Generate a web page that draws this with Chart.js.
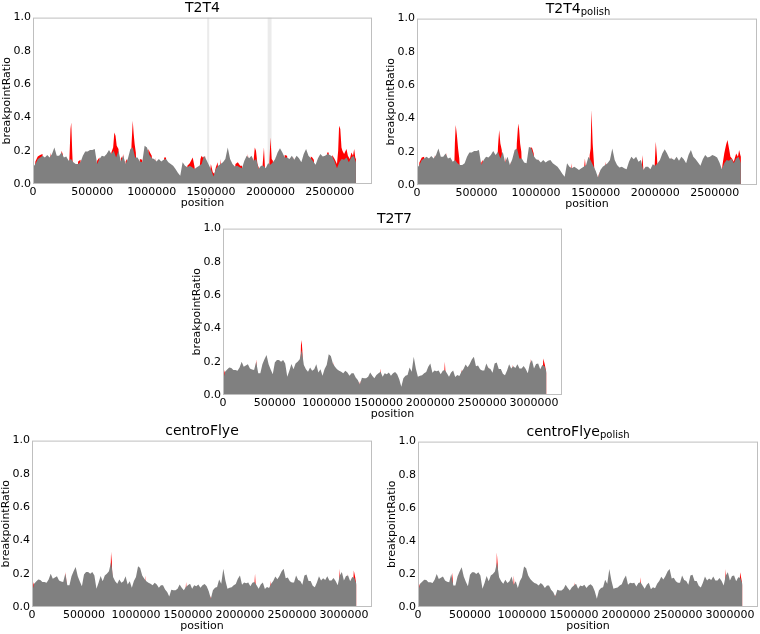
<!DOCTYPE html>
<html>
<head>
<meta charset="utf-8">
<script src="https://cdn.jsdelivr.net/npm/chart.js@4.4.0/dist/chart.umd.min.js"></script>
<style>
  html, body { margin: 0; padding: 0; background: #fff; }
  #fig { position: relative; width: 760px; height: 634px; font-family: "DejaVu Sans", sans-serif; color: #000; }
  #fig canvas { position: absolute; }
  .ttl { position: absolute; text-align: center; font-size: 14px; line-height: 14px; white-space: nowrap; }
  .ttl span { font-size: 10px; position: relative; top: 2px; }
</style>
</head>
<body>
<div id="fig"></div>
<script>
// ── data: positions in kb, ratios ──

// grey windows sampled every 20 kb
const posT2T4Kb = [0,20,40,60,80,100,120,140,160,180,200,220,240,260,280,300,320,340,360,380,400,420,440,460,480,500,520,540,560,580,600,620,640,660,680,700,720,740,760,780,800,820,840,860,880,900,920,940,960,980,1000,1020,1040,1060,1080,1100,1120,1140,1160,1180,1200,1220,1240,1260,1280,1300,1320,1340,1360,1380,1400,1420,1440,1460,1480,1500,1520,1540,1560,1580,1600,1620,1640,1660,1680,1700,1720,1740,1760,1780,1800,1820,1840,1860,1880,1900,1920,1940,1960,1980,2000,2020,2040,2060,2080,2100,2120,2140,2160,2180,2200,2220,2240,2260,2280,2300,2320,2340,2360,2380,2400,2420,2440,2460,2480,2500,2520,2540,2560,2580,2600,2620,2640,2660,2680,2700,2720];

const greyT2T4 = [0.10,0.12,0.15,0.16,0.17,0.16,0.175,0.16,0.18,0.22,
  0.17,0.17,0.19,0.16,0.165,0.14,0.15,0.13,0.12,0.12,
  0.13,0.17,0.195,0.195,0.205,0.205,0.21,0.12,0.15,0.17,
  0.165,0.18,0.205,0.18,0.20,0.16,0.20,0.135,0.17,0.12,
  0.155,0.21,0.22,0.16,0.16,0.135,0.13,0.23,0.22,0.175,
  0.155,0.15,0.135,0.15,0.135,0.145,0.15,0.13,0.12,0.11,
  0.09,0.067,0.05,0.13,0.11,0.10,0.11,0.10,0.09,0.10,
  0.11,0.12,0.17,0.145,0.115,0.085,0.045,0.09,0.11,0.12,
  0.13,0.15,0.22,0.15,0.12,0.105,0.11,0.10,0.095,0.14,
  0.17,0.155,0.17,0.14,0.15,0.09,0.11,0.11,0.095,0.125,
  0.115,0.13,0.15,0.19,0.215,0.19,0.16,0.16,0.15,0.17,
  0.145,0.17,0.155,0.13,0.18,0.21,0.17,0.155,0.135,0.115,
  0.155,0.18,0.165,0.17,0.18,0.175,0.165,0.135,0.095,0.13,
  0.15,0.145,0.16,0.13,0.16,0.17,0.13];

const posT2T7Kb = [0,20,40,60,80,100,120,140,160,180,200,220,240,260,280,300,320,340,360,380,400,420,440,460,480,500,520,540,560,580,600,620,640,660,680,700,720,740,760,780,800,820,840,860,880,900,920,940,960,980,1000,1020,1040,1060,1080,1100,1120,1140,1160,1180,1200,1220,1240,1260,1280,1300,1320,1340,1360,1380,1400,1420,1440,1460,1480,1500,1520,1540,1560,1580,1600,1620,1640,1660,1680,1700,1720,1740,1760,1780,1800,1820,1840,1860,1880,1900,1920,1940,1960,1980,2000,2020,2040,2060,2080,2100,2120,2140,2160,2180,2200,2220,2240,2260,2280,2300,2320,2340,2360,2380,2400,2420,2440,2460,2480,2500,2520,2540,2560,2580,2600,2620,2640,2660,2680,2700,2720,2740,2760,2780,2800,2820,2840,2860,2880,2900,2920,2940,2960,2980,3000,3020,3040,3060,3080,3100,3120];

// the grey profile is shared by T2T7 and both centroFlye panels
const greyT2T7 = [0.09,0.14,0.153,0.165,0.163,0.15,0.15,0.145,0.165,0.20,
  0.17,0.177,0.185,0.16,0.153,0.15,0.20,0.13,0.13,0.185,
  0.215,0.24,0.185,0.153,0.125,0.195,0.21,0.21,0.20,0.21,
  0.19,0.11,0.145,0.187,0.155,0.19,0.20,0.215,0.27,0.18,
  0.155,0.14,0.165,0.145,0.155,0.185,0.135,0.155,0.115,0.157,
  0.18,0.245,0.235,0.19,0.17,0.155,0.145,0.14,0.13,0.145,
  0.135,0.115,0.13,0.13,0.105,0.09,0.063,0.104,0.10,0.10,
  0.11,0.135,0.115,0.10,0.12,0.13,0.14,0.11,0.13,0.125,
  0.135,0.115,0.13,0.138,0.125,0.095,0.05,0.10,0.115,0.12,
  0.165,0.14,0.23,0.16,0.11,0.115,0.118,0.13,0.138,0.17,
  0.19,0.134,0.147,0.143,0.147,0.124,0.145,0.15,0.13,0.11,
  0.135,0.147,0.108,0.12,0.114,0.14,0.157,0.183,0.167,0.187,
  0.214,0.23,0.173,0.177,0.155,0.147,0.147,0.19,0.163,0.157,
  0.134,0.19,0.195,0.157,0.157,0.128,0.118,0.147,0.185,0.16,
  0.173,0.163,0.185,0.16,0.16,0.175,0.157,0.13,0.19,0.21,
  0.16,0.187,0.19,0.155,0.18,0.175,0.14];

// red: only where it rises above the grey (elsewhere it sits low, hidden behind it)
const redPosT2T4Kb = [0, 10,20,40,60,80,90, 130,150,165, 230,240,250,260, 300,316,322,330,340, 370,380,400,410,
  530,540,550,560,570, 650,660,675,685,695,705,720,730, 735,742,752,760,770, 775,780,790,800,
  820,830,840,848,856,866,875, 895,900,920,930, 960,972,985,1000,1010, 1020,1030,1040, 1095,1105,1120,1130,
  1295,1300,1320,1345,1360,1370, 1395,1410,1420,1430,1450,1460, 1485,1498,1514,1528,1540,1555,1565, 1568,1578,1590,
  1695,1705,1725,1745,1760,1770, 1790,1810,1825, 1850,1860,1868,1878,1890,1900,1910, 1925,1945,1958,
  1985,2000,2010,2020,2030, 2035,2042,2050, 2105,2120,2140,2150, 2185,2195,2205, 2325,2340,2352,2365,2375,
  2460,2478,2490,2500, 2515,2520,2540,2560,2570,2578,2588,2598,2606,2620,2640,2652,2668,2682,2695,2705,2714,2720];
const redT2T4 = [0.03, 0.03,0.135,0.165,0.175,0.18,0.03, 0.03,0.19,0.03, 0.03,0.20,0.18,0.03, 0.03,0.33,0.37,0.20,0.03, 0.03,0.135,0.145,0.03,
  0.03,0.14,0.15,0.16,0.03, 0.03,0.19,0.22,0.31,0.29,0.23,0.21,0.03, 0.03,0.165,0.15,0.18,0.03, 0.03,0.135,0.15,0.03,
  0.03,0.24,0.38,0.30,0.24,0.19,0.03, 0.03,0.15,0.145,0.03, 0.03,0.21,0.19,0.17,0.03, 0.03,0.16,0.03, 0.03,0.16,0.16,0.03,
  0.03,0.11,0.125,0.16,0.105,0.03, 0.03,0.15,0.17,0.16,0.165,0.03, 0.03,0.12,0.07,0.06,0.10,0.13,0.03, 0.03,0.15,0.03,
  0.03,0.12,0.13,0.11,0.11,0.03, 0.03,0.18,0.03, 0.03,0.16,0.22,0.20,0.12,0.10,0.03, 0.03,0.22,0.03,
  0.03,0.28,0.15,0.14,0.03, 0.03,0.165,0.03, 0.03,0.175,0.17,0.03, 0.03,0.165,0.03, 0.03,0.165,0.16,0.145,0.03,
  0.03,0.19,0.19,0.03, 0.03,0.175,0.15,0.12,0.20,0.35,0.33,0.22,0.20,0.18,0.21,0.17,0.15,0.19,0.17,0.21,0.16,0.15];

const redPosT2T4PolishKb = [0, 10,20,40,60,70, 135,150,165, 230,245,255, 310,318,325,335,345,355,365, 530,540,552,560,
  670,680,690,700,712,722, 730,745,755, 775,785,795, 830,838,850,858,866,876,885, 940,955,968,980,990,
  1010,1020,1030, 1285,1295,1305, 1395,1410,1425, 1440,1450,1458,1465,1475,1485,1495, 1520,1530,1540,
  1570,1582,1594, 1790,1805,1820, 1880,1893,1906, 1990,2005,2015,2025, 2125,2135,2145, 2440,2452,2465,
  2555,2565,2580,2595,2607,2620,2632,2645,2660,2680,2695,2705,2715,2720];
const redT2T4Polish = [0.03, 0.03,0.135,0.165,0.17,0.03, 0.03,0.18,0.03, 0.03,0.195,0.03, 0.03,0.25,0.36,0.30,0.22,0.16,0.03, 0.03,0.135,0.15,0.03,
  0.03,0.23,0.33,0.25,0.21,0.03, 0.03,0.17,0.03, 0.03,0.14,0.03, 0.03,0.25,0.37,0.33,0.25,0.20,0.03, 0.03,0.23,0.22,0.19,0.03,
  0.03,0.16,0.03, 0.03,0.13,0.03, 0.03,0.16,0.03, 0.03,0.18,0.22,0.45,0.25,0.14,0.03, 0.03,0.08,0.03,
  0.03,0.14,0.03, 0.03,0.17,0.03, 0.03,0.18,0.03, 0.03,0.26,0.17,0.03, 0.03,0.17,0.03, 0.03,0.17,0.03,
  0.03,0.12,0.19,0.24,0.27,0.22,0.17,0.16,0.14,0.19,0.17,0.21,0.18,0.17];

const redPosT2T7Kb = [0,15,30,305,320,335,615,630,645,740,752,758,765,778,1050,1062,1075,1310,1322,1335,1505,1520,1535,2125,2140,2155,2285,2300,2315,2545,2558,2570,2775,2790,2805,2955,2970,2985,3075,3090,3105,3120];
const redT2T7 = [0.10,0.15,0.03,0.03,0.215,0.03,0.03,0.125,0.03,0.03,0.30,0.33,0.27,0.03,0.03,0.20,0.03,0.03,0.085,0.03,0.03,0.16,0.03,0.03,0.20,0.03,0.03,0.155,0.03,0.03,0.17,0.03,0.03,0.185,0.03,0.03,0.22,0.03,0.03,0.22,0.18,0.13];

const redPosCentroFlyeKb = [0,15,30,305,325,340,750,760,768,780,1075,1088,1100,1318,1330,1342,1470,1482,1495,1708,1720,1732,2130,2145,2160,2210,2222,2234,2280,2292,2305,2945,2960,2975,3020,3032,3045,3080,3095,3108,3120];
const redCentroFlye = [0.10,0.15,0.03,0.03,0.21,0.03,0.03,0.33,0.27,0.03,0.03,0.19,0.03,0.03,0.075,0.03,0.03,0.15,0.03,0.03,0.065,0.03,0.03,0.20,0.03,0.03,0.13,0.03,0.03,0.16,0.03,0.03,0.23,0.03,0.03,0.20,0.03,0.03,0.22,0.18,0.13];

const redPosCentroFlyePolishKb = [0,15,30,315,330,345,748,758,766,778,910,922,935,1310,1322,1335,1490,1502,1515,2125,2140,2155,2215,2227,2240,2540,2552,2565,2945,2960,2975,3085,3098,3110,3120];
const redCentroFlyePolish = [0.10,0.14,0.03,0.03,0.21,0.03,0.03,0.33,0.26,0.03,0.03,0.19,0.03,0.03,0.075,0.03,0.03,0.15,0.03,0.03,0.18,0.03,0.03,0.12,0.03,0.03,0.17,0.03,0.03,0.23,0.03,0.03,0.21,0.17,0.13];

// light grey shaded windows in the T2T4 panel (bp)
const bandsT2T4 = [[1467000, 1484000], [1976000, 2009000]];

const xTicksT2T4 = [0, 500000, 1000000, 1500000, 2000000, 2500000];
const xTicksT2T7 = [0, 500000, 1000000, 1500000, 2000000, 2500000, 3000000];
const yTicks = [0, 0.2, 0.4, 0.6, 0.8, 1.0];

// ── panel layout (plot rectangle in page pixels) ──
const panels = [
  { title: 'T2T4', sub: '', dx: 0, pos: posT2T4Kb, grey: greyT2T4, redPos: redPosT2T4Kb, red: redT2T4, xMax: 2855000, xTicks: xTicksT2T4, bands: bandsT2T4, L: 33, T: 15, R: 372, B: 184 },
  { title: 'T2T4', sub: 'polish', dx: -9, pos: posT2T4Kb, grey: greyT2T4, redPos: redPosT2T4PolishKb, red: redT2T4Polish, xMax: 2855000, xTicks: xTicksT2T4, bands: [], L: 417, T: 16, R: 757, B: 185 },
  { title: 'T2T7', sub: '', dx: 2, pos: posT2T7Kb, grey: greyT2T7, redPos: redPosT2T7Kb, red: redT2T7, xMax: 3270000, xTicks: xTicksT2T7, bands: [], L: 223, T: 226, R: 562, B: 395 },
  { title: 'centroFlye', sub: '', dx: 0, pos: posT2T7Kb, grey: greyT2T7, redPos: redPosCentroFlyeKb, red: redCentroFlye, xMax: 3270000, xTicks: xTicksT2T7, bands: [], L: 32, T: 438, R: 372, B: 607 },
  { title: 'centroFlye', sub: 'polish', dx: -10, pos: posT2T7Kb, grey: greyT2T7, redPos: redPosCentroFlyePolishKb, red: redCentroFlyePolish, xMax: 3270000, xTicks: xTicksT2T7, bands: [], L: 418, T: 439, R: 758, B: 607 }
];

const Y_AXIS_W = 33, X_AXIS_H = 26, PAD_T = 6, PAD_R = 4;
const FONT = { family: '"DejaVu Sans", sans-serif', size: 11 };
const TEXT = '#000';

// shaded windows behind the data
const bandsPlugin = {
  id: 'bands',
  beforeDatasetsDraw(chart, args, opts) {
    const { ctx, chartArea: a, scales: { x } } = chart;
    (opts.list || []).forEach(([s, e]) => {
      const x0 = x.getPixelForValue(s), x1 = x.getPixelForValue(e);
      ctx.save();
      ctx.fillStyle = '#ebebeb';
      ctx.fillRect(x0, a.top, x1 - x0, a.bottom - a.top);
      ctx.restore();
    });
  }
};

// light frame round the plot area
const framePlugin = {
  id: 'frame',
  afterDatasetsDraw(chart) {
    const { ctx, chartArea: a } = chart;
    ctx.save();
    ctx.strokeStyle = '#bfbfbf';
    ctx.lineWidth = 1;
    ctx.strokeRect(a.left + 0.5, a.top + 0.5, a.right - a.left - 1, a.bottom - a.top - 1);
    ctx.restore();
  }
};

const fig = document.getElementById('fig');

panels.forEach(p => {
  const w = p.R - p.L, h = p.B - p.T;

  const canvas = document.createElement('canvas');
  canvas.width = Y_AXIS_W + w + PAD_R;
  canvas.height = PAD_T + h + X_AXIS_H;
  canvas.style.left = (p.L - Y_AXIS_W) + 'px';
  canvas.style.top = (p.T - PAD_T) + 'px';
  fig.appendChild(canvas);

  const ttl = document.createElement('div');
  ttl.className = 'ttl';
  ttl.style.left = (p.L + p.dx) + 'px';
  ttl.style.width = w + 'px';
  ttl.style.top = (p.T - 15) + 'px';
  ttl.innerHTML = p.title + (p.sub ? '<span>' + p.sub + '</span>' : '');
  fig.appendChild(ttl);

  const pts = (xs, ys) => ys.map((v, i) => ({ x: xs[i] * 1000, y: v }));

  new Chart(canvas.getContext('2d'), {
    type: 'line',
    data: {
      datasets: [
        { data: pts(p.pos, p.grey), borderColor: 'rgba(0,0,0,0)', backgroundColor: '#808080', borderWidth: 0, fill: 'origin', pointRadius: 0, tension: 0 },
        { data: pts(p.redPos, p.red), borderColor: 'rgba(0,0,0,0)', backgroundColor: '#ff0000', borderWidth: 0, fill: 'origin', pointRadius: 0, tension: 0 }
      ]
    },
    options: {
      responsive: false,
      animation: false,
      devicePixelRatio: 1,
      layout: { padding: { top: PAD_T, right: PAD_R, left: 0, bottom: 0 } },
      plugins: { legend: { display: false }, tooltip: { enabled: false }, bands: { list: p.bands } },
      scales: {
        x: {
          type: 'linear', min: 0, max: p.xMax,
          grid: { display: false, drawTicks: false },
          border: { display: false },
          afterBuildTicks: axis => { axis.ticks = p.xTicks.map(v => ({ value: v })); },
          afterFit: axis => { axis.height = X_AXIS_H; },
          ticks: { font: FONT, color: TEXT, padding: 2, maxRotation: 0, autoSkip: false, callback: v => String(v) },
          title: { display: true, text: 'position', font: FONT, color: TEXT, padding: { top: 0, bottom: 0 } }
        },
        y: {
          min: 0, max: 1,
          grid: { display: false, drawTicks: false },
          border: { display: false },
          afterBuildTicks: axis => { axis.ticks = yTicks.map(v => ({ value: v })); },
          afterFit: axis => { axis.width = Y_AXIS_W; },
          ticks: { font: FONT, color: TEXT, padding: 2, callback: v => v.toFixed(1) },
          title: { display: true, text: 'breakpointRatio', font: FONT, color: TEXT, padding: { top: 1, bottom: 0 } }
        }
      }
    },
    plugins: [bandsPlugin, framePlugin]
  });
});
</script>
</body>
</html>
